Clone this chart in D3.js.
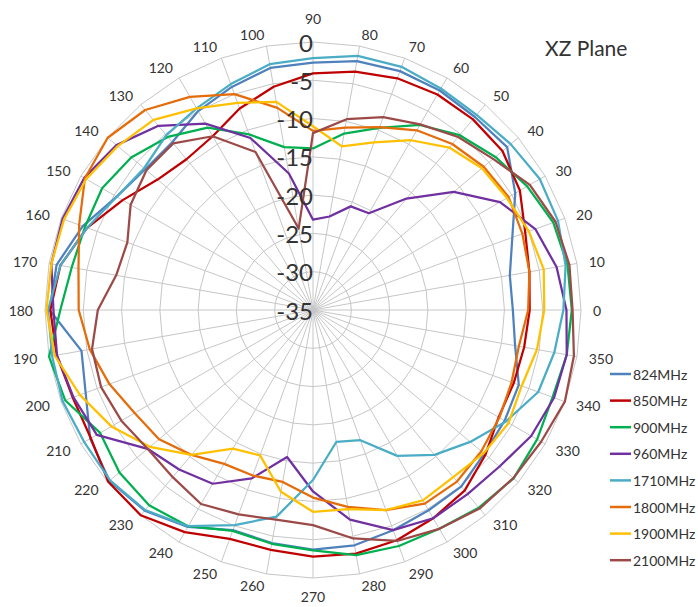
<!DOCTYPE html>
<html>
<head>
  <meta charset="utf-8">
  <script src="https://cdn.jsdelivr.net/npm/d3@7"></script>
  <style>
    body { margin: 0; background: #fff; }
    text { font-family: Lato, "Open Sans", sans-serif; fill: #333; }
  </style>
</head>
<body>
<script>
  // spoke angles, degrees, counter-clockwise from the right
  var angles = [0, 10, 20, 30, 40, 50, 60, 70, 80, 90, 100, 110, 120, 130, 140, 150, 160, 170,
                180, 190, 200, 210, 220, 230, 240, 250, 260, 270, 280, 290, 300, 310, 320, 330, 340, 350];

  // ring levels (dB)
  var levels = [-35, -30, -25, -20, -15, -10, -5, 0];

  var seriesNames = ["824MHz", "850MHz", "900MHz", "960MHz", "1710MHz", "1800MHz", "1900MHz", "2100MHz"];
  var seriesColors = ["#4F81BD", "#C00000", "#00B050", "#7030A0", "#4BACC6", "#E46C0A", "#FFC000", "#9C4A48"];

  // gain per angle (dB)
  var s824 = [-8.9, -8.9, -7.3, -4.5, -1.9, -2.1, -1.9, -1.8, -2.0, -2.7, -2.9, -4.0, -5.0, -6.4, -6.4, -5.4, -3.0, -1.0,
              -0.6, -4.3, -3.4, -1.4, -0.3, -0.8, -2.3, -4.4, -4.1, -3.7, -3.8, -4.4, -4.8, -4.9, -5.8, -6.1, -6.4, -8.2];
  var s850 = [-6.7, -6.3, -5.5, -3.8, -2.7, -2.5, -2.5, -2.8, -3.4, -4.1, -5.4, -7.0, -8.8, -9.3, -8.5, -6.3, -3.6, -1.5,
              -0.7, -1.0, -1.6, -1.5, -0.1, 0, -1.5, -3.2, -3.2, -2.8, -2.7, -3.0, -3.6, -4.2, -5.6, -7.0, -7.1, -7.0];
  var s900 = [-1.2, -1.25, -1.6, -2.7, -3.9, -5.2, -7.1, -9.7, -11.6, -13.9, -13.4, -10.6, -7.5, -5.5, -4.0, -3.2, -3.3, -3.0,
              -2.0, 0, -0.55, -2.9, -2.0, -1.7, -2.4, -4.3, -4.0, -3.6, -2.5, -2.2, -2.0, -1.3, -0.8, -1.2, -1.7, -1.35];
  var s960 = [-1.9, -2.7, -4.1, -6.8, -11.0, -16.0, -20.4, -20.6, -22.6, -23.2, -16.9, -11.1, -6.9, -3.6, -1.5, -0.5, -0.2, -0.3,
              -1.1, -1.05, -1.7, -2.4, -6.8, -7.8, -8.8, -11.6, -15.5, -11.3, -7.2, -4.4, -3.6, -3.6, -3.2, -2.1, -1.5, -1.35];
  var s1710 = [-2.3, -1.5, -0.95, -0.8, -1.3, -1.75, -1.6, -1.2, -1.3, -2.1, -2.4, -3.6, -4.6, -5.2, -6.2, -5.4, -3.6, -1.5,
               -0.4, -0.4, -0.2, -0.5, -0.4, -0.9, -2.4, -5.1, -7.6, -12.8, -17.5, -16.9, -13.0, -10.3, -8.2, -5.9, -3.7, -3.0];
  var s1800 = [-6.9, -6.3, -5.9, -5.5, -5.9, -6.7, -7.9, -9.6, -10.8, -11.6, -8.2, -5.0, -2.85, -0.9, 0, -0.6, -2.5, -3.9,
               -4.4, -5.4, -6.7, -8.1, -8.75, -10.3, -11.8, -12.0, -12.2, -10.5, -8.9, -7.2, -5.8, -5.75, -6.3, -6.9, -7.4, -7.7];
  var s1900 = [-4.8, -4.4, -5.0, -5.75, -6.2, -7.3, -9.4, -11.7, -13.3, -11.0, -7.4, -6.2, -4.6, -2.6, -1.7, -0.8, -0.4, -0.3,
               -0.2, -0.75, -2.6, -4.6, -7.2, -10.3, -14.1, -14.8, -10.9, -8.65, -8.6, -7.2, -6.3, -6.5, -5.9, -5.5, -6.0, -5.3];
  var s2100 = [-1.1, -1.0, -1.3, -2.3, -4.3, -5.5, -7.0, -8.2, -9.7, -11.9, -24.2, -13.05, -8.8, -6.6, -6.6, -7.5, -9.2, -8.9,
               -6.9, -5.7, -5.55, -6.1, -6.8, -6.5, -5.75, -6.6, -7.2, -6.9, -4.7, -2.9, -2.0, -1.15, -0.85, -0.6, 0, -0.4];

  var seriesValues = [s824, s850, s900, s960, s1710, s1800, s1900, s2100];

  var width = 698, height = 607;
  var cx = 313, cy = 310, R = 268;

  var svg = d3.select("body").append("svg")
      .attr("width", width)
      .attr("height", height);

  svg.append("rect").attr("width", width).attr("height", height).attr("fill", "#fff");

  var r = d3.scaleLinear().domain([-35, 0]).range([0, R]);

  // d3 radial angle: 0 at top, clockwise
  function toRad(a) { return (90 - a) * Math.PI / 180; }

  var plot = svg.append("g").attr("transform", "translate(" + cx + "," + cy + ")");

  // polygon gridlines
  var ringLine = d3.lineRadial()
      .angle(function(a) { return toRad(a); })
      .curve(d3.curveLinearClosed);

  plot.selectAll(".ring")
    .data(levels.slice(1))
    .enter().append("path")
      .attr("class", "ring")
      .attr("d", function(lv) { return ringLine.radius(r(lv))(angles); })
      .attr("fill", "none")
      .attr("stroke", "#c6c6c6")
      .attr("stroke-width", 1);

  // spokes
  plot.selectAll(".spoke")
    .data(angles)
    .enter().append("line")
      .attr("class", "spoke")
      .attr("x1", 0).attr("y1", 0)
      .attr("x2", function(a) { return r(0) * Math.cos(a * Math.PI / 180); })
      .attr("y2", function(a) { return -r(0) * Math.sin(a * Math.PI / 180); })
      .attr("stroke", "#c6c6c6")
      .attr("stroke-width", 1);

  // series
  var seriesLine = d3.lineRadial()
      .angle(function(d, i) { return toRad(angles[i]); })
      .radius(function(d) { return r(d); })
      .curve(d3.curveLinearClosed);

  plot.selectAll(".series")
    .data(seriesValues)
    .enter().append("path")
      .attr("class", "series")
      .attr("d", function(vals) { return seriesLine(vals); })
      .attr("fill", "none")
      .attr("stroke", function(d, i) { return seriesColors[i]; })
      .attr("stroke-width", 2.25)
      .attr("stroke-linejoin", "round");

  // angle labels round the outside
  plot.selectAll(".alabel")
    .data(angles)
    .enter().append("text")
      .attr("class", "alabel")
      .attr("x", function(a) {
        var gap = (a == 90 || a == 270) ? 0 : 12;
        return (R + gap) * Math.cos(a * Math.PI / 180);
      })
      .attr("y", function(a) {
        if (a == 90) return -(R + 18);
        if (a == 270) return R + 13;
        return -(R + 12) * Math.sin(a * Math.PI / 180);
      })
      .attr("text-anchor", function(a) {
        var c = Math.cos(a * Math.PI / 180);
        return c > 0.05 ? "start" : (c < -0.05 ? "end" : "middle");
      })
      .attr("dominant-baseline", function(a) {
        if (a == 90) return "auto";
        if (a == 270) return "hanging";
        return "central";
      })
      .style("font-size", "14px")
      .text(function(a) { return a; });

  // ring value labels up the 90 degree spoke
  plot.selectAll(".rlabel")
    .data(levels)
    .enter().append("text")
      .attr("class", "rlabel")
      .attr("x", 0)
      .attr("y", function(lv) { return -r(lv); })
      .attr("text-anchor", "end")
      .attr("dominant-baseline", "central")
      .style("font-size", "24px")
      .text(function(lv) { return lv; });

  // title
  svg.append("text")
      .attr("x", 545)
      .attr("y", 56)
      .style("font-size", "21px")
      .text("XZ Plane");

  // legend
  var legend = svg.selectAll(".legend")
    .data(seriesNames)
    .enter().append("g")
      .attr("class", "legend")
      .attr("transform", function(d, i) { return "translate(610," + (374 + i * 26.6) + ")"; });

  legend.append("line")
      .attr("x1", 0).attr("x2", 21)
      .attr("y1", 0).attr("y2", 0)
      .attr("stroke", function(d, i) { return seriesColors[i]; })
      .attr("stroke-width", 2.5);

  legend.append("text")
      .attr("x", 23)
      .attr("y", 0)
      .attr("dominant-baseline", "central")
      .style("font-size", "14px")
      .text(function(d) { return d; });
</script>
</body>
</html>
